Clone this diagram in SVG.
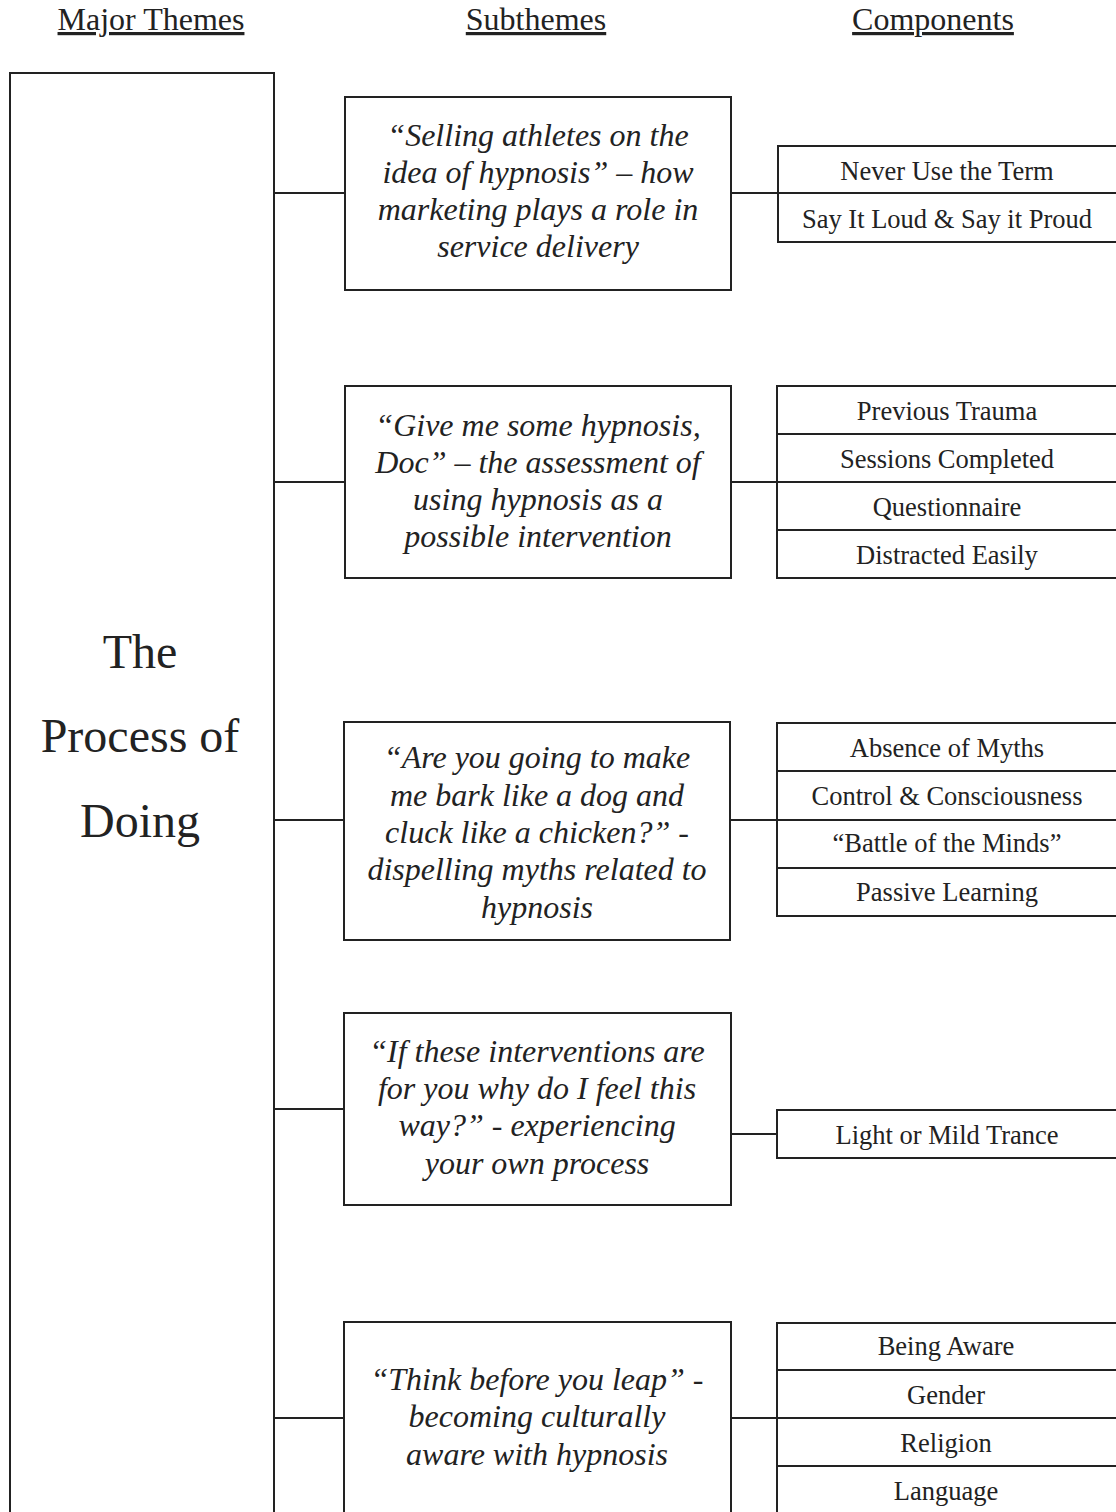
<svg xmlns="http://www.w3.org/2000/svg" width="1116" height="1512" viewBox="0 0 1116 1512">
<style>
.hdr{font-family:"Liberation Serif",serif;font-size:32px;fill:#222;text-anchor:middle;text-decoration:underline}
.box{fill:#fff;stroke:#222;stroke-width:2}
.ln{stroke:#222;stroke-width:2;fill:none}
.main{font-family:"Liberation Serif",serif;font-size:48px;fill:#222;text-anchor:middle}
.sub{font-family:"Liberation Serif",serif;font-style:italic;font-size:32px;fill:#222;text-anchor:middle}
.comp{font-family:"Liberation Serif",serif;font-size:26.5px;fill:#222;text-anchor:middle}
</style>
<rect width="1116" height="1512" fill="#fff"/>
<g id="headers">
<text class="hdr" x="151" y="30">Major Themes</text>
<text class="hdr" x="536" y="30">Subthemes</text>
<text class="hdr" x="933" y="30">Components</text>
</g>
<g id="connectors">
<line class="ln" x1="274" y1="193" x2="345" y2="193"/>
<line class="ln" x1="731" y1="193" x2="778" y2="193"/>
<line class="ln" x1="274" y1="482" x2="345" y2="482"/>
<line class="ln" x1="731" y1="482" x2="777" y2="482"/>
<line class="ln" x1="274" y1="820" x2="345" y2="820"/>
<line class="ln" x1="731" y1="820" x2="777" y2="820"/>
<line class="ln" x1="274" y1="1109" x2="344" y2="1109"/>
<line class="ln" x1="731" y1="1134" x2="777" y2="1134"/>
<line class="ln" x1="274" y1="1418" x2="344" y2="1418"/>
<line class="ln" x1="731" y1="1418" x2="777" y2="1418"/>
</g>
<g id="main">
<path class="ln" d="M10 1520 V73 H274 V1520"/>
<text class="main" x="140" y="668">The</text>
<text class="main" x="140" y="752">Process of</text>
<text class="main" x="140" y="837">Doing</text>
</g>
<g id="sub1">
<rect class="box" x="345" y="97" width="386" height="193"/>
<text class="sub" x="538" y="146">“Selling athletes on the</text>
<text class="sub" x="538" y="183">idea of hypnosis” – how</text>
<text class="sub" x="538" y="220">marketing plays a role in</text>
<text class="sub" x="538" y="257">service delivery</text>
</g>
<g id="comp1">
<rect class="box" x="778" y="146" width="340" height="96"/>
<line class="ln" x1="778" y1="193" x2="1116" y2="193"/>
<text class="comp" x="947" y="180">Never Use the Term</text>
<text class="comp" x="947" y="228">Say It Loud &amp; Say it Proud</text>
</g>
<g id="sub2">
<rect class="box" x="345" y="386" width="386" height="192"/>
<text class="sub" x="538" y="436">“Give me some hypnosis,</text>
<text class="sub" x="538" y="473">Doc” – the assessment of</text>
<text class="sub" x="538" y="510">using hypnosis as a</text>
<text class="sub" x="538" y="547">possible intervention</text>
</g>
<g id="comp2">
<rect class="box" x="777" y="386" width="341" height="192"/>
<line class="ln" x1="777" y1="434" x2="1116" y2="434"/>
<line class="ln" x1="777" y1="482" x2="1116" y2="482"/>
<line class="ln" x1="777" y1="530" x2="1116" y2="530"/>
<text class="comp" x="947" y="420">Previous Trauma</text>
<text class="comp" x="947" y="468">Sessions Completed</text>
<text class="comp" x="947" y="516">Questionnaire</text>
<text class="comp" x="947" y="564">Distracted Easily</text>
</g>
<g id="sub3">
<rect class="box" x="344" y="722" width="386" height="218"/>
<text class="sub" x="537" y="768">“Are you going to make</text>
<text class="sub" x="537" y="806">me bark like a dog and</text>
<text class="sub" x="537" y="843">cluck like a chicken?” -</text>
<text class="sub" x="537" y="880">dispelling myths related to</text>
<text class="sub" x="537" y="918">hypnosis</text>
</g>
<g id="comp3">
<rect class="box" x="777" y="723" width="341" height="193"/>
<line class="ln" x1="777" y1="771" x2="1116" y2="771"/>
<line class="ln" x1="777" y1="820" x2="1116" y2="820"/>
<line class="ln" x1="777" y1="868" x2="1116" y2="868"/>
<text class="comp" x="947" y="757">Absence of Myths</text>
<text class="comp" x="947" y="805">Control &amp; Consciousness</text>
<text class="comp" x="947" y="852">“Battle of the Minds”</text>
<text class="comp" x="947" y="901">Passive Learning</text>
</g>
<g id="sub4">
<rect class="box" x="344" y="1013" width="387" height="192"/>
<text class="sub" x="537" y="1062">“If these interventions are</text>
<text class="sub" x="537" y="1099">for you why do I feel this</text>
<text class="sub" x="537" y="1136">way?” - experiencing</text>
<text class="sub" x="537" y="1174">your own process</text>
</g>
<g id="comp4">
<rect class="box" x="777" y="1110" width="341" height="48"/>
<text class="comp" x="947" y="1144">Light or Mild Trance</text>
</g>
<g id="sub5">
<path class="box" d="M344 1520 V1322 H731 V1520"/>
<text class="sub" x="537" y="1390">“Think before you leap” -</text>
<text class="sub" x="537" y="1427">becoming culturally</text>
<text class="sub" x="537" y="1465">aware with hypnosis</text>
</g>
<g id="comp5">
<rect class="box" x="777" y="1323" width="341" height="192"/>
<line class="ln" x1="777" y1="1370" x2="1116" y2="1370"/>
<line class="ln" x1="777" y1="1418" x2="1116" y2="1418"/>
<line class="ln" x1="777" y1="1466" x2="1116" y2="1466"/>
<text class="comp" x="946" y="1355">Being Aware</text>
<text class="comp" x="946" y="1404">Gender</text>
<text class="comp" x="946" y="1452">Religion</text>
<text class="comp" x="946" y="1500">Language</text>
</g>
</svg>
